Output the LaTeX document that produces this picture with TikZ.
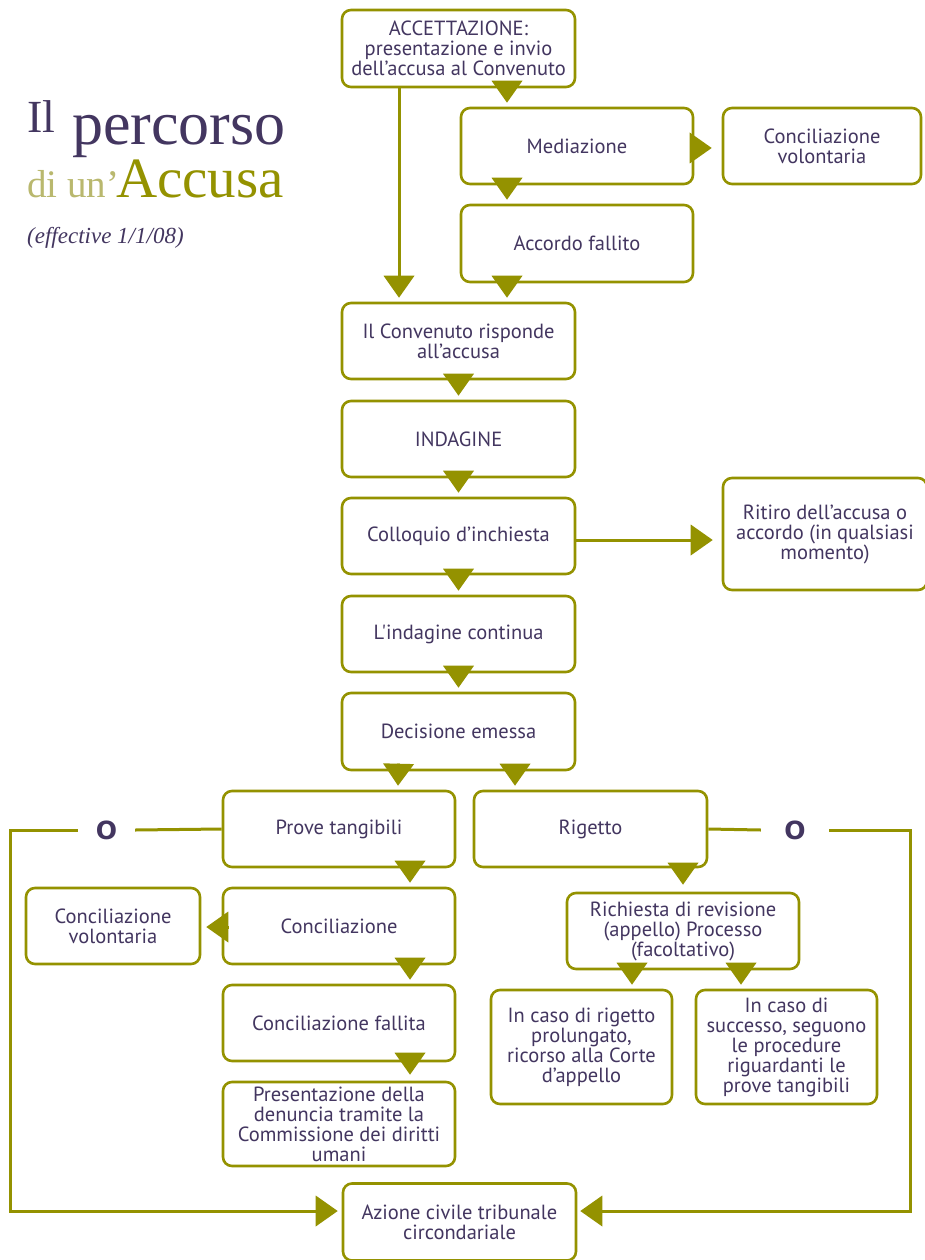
\documentclass[tikz,border=0pt]{standalone}
\usepackage{fontspec}
\setmainfont{Liberation Serif}
\newfontfamily\bxf{PT Sans}
\newfontfamily\of{DejaVu Sans}
\usetikzlibrary{arrows.meta,calc}
\definecolor{ol}{RGB}{148,146,0}
\definecolor{pu}{RGB}{67,54,96}
\definecolor{lol}{RGB}{185,184,110}
\begin{document}
\begin{tikzpicture}[x=1pt,y=-1pt,
 box/.style={draw=ol,line width=2.6pt,rounded corners=9pt,fill=white,align=center,text=pu,font={\bxf\fontsize{20.5}{20}\selectfont},inner sep=0pt},
 wh/.style 2 args={minimum width=#1pt,minimum height=#2pt},
 arr/.style={draw=ol,line width=3pt,line join=miter,-{Triangle[width=31pt,length=22pt,line width=0pt]}},
 ln/.style={draw=ol,line width=3pt},
 onode/.style={text=pu,font={\of\bfseries\fontsize{25}{25}\selectfont},inner sep=0pt,minimum height=20pt},
 ttl/.style={anchor=base west,inner sep=0pt}]
\useasboundingbox (0,0) rectangle (924,1260);
\fill[white] (0,0) rectangle (924,1260);
% title
\node[ttl,text=pu,font={\fontsize{46}{46}\selectfont}] (t1) at (27,133) {Il};
\node[ttl,text=pu,font={\fontsize{62}{62}\selectfont}] (t2) at (72,145) {percorso};
\node[ttl,text=lol,font={\fontsize{39}{39}\selectfont}] (t3) at (27,197) {di un’};
\node[ttl,text=ol,font={\fontsize{57}{57}\selectfont}] (t4) at (116,197) {Accusa};
\node[ttl,text=pu,font={\itshape\fontsize{23}{23}\selectfont}] (t5) at (27,243) {(effective 1/1/08)};
% boxes
\node[box,wh={233}{77}] (acc) at (458.5,48.5) {ACCETTAZIONE:\\presentazione e invio\\dell’accusa al Convenuto};
\node[box,wh={232}{76}] (med) at (577,146) {Mediazione};
\node[box,wh={198}{76}] (cv1) at (822,146) {Conciliazione\\volontaria};
\node[box,wh={232}{77}] (acf) at (577,243.5) {Accordo fallito};
\node[box,wh={233}{76}] (conv) at (458.5,341) {Il Convenuto risponde\\all’accusa};
\node[box,wh={233}{76}] (ind) at (458.5,439) {INDAGINE};
\node[box,wh={233}{76}] (coll) at (458.5,536) {Colloquio d’inchiesta};
\node[box,wh={204}{112}] (rit) at (825,534) {Ritiro dell’accusa o\\accordo (in qualsiasi\\momento)};
\node[box,wh={233}{76}] (cont) at (458.5,634) {L'indagine continua};
\node[box,wh={233}{77}] (dec) at (458.5,731.5) {Decisione emessa};
\node[box,wh={232}{76}] (prove) at (339,829) {Prove tangibili};
\node[box,wh={233}{76}] (rig) at (590.5,829) {Rigetto};
\node[box,wh={232}{76}] (conc) at (339,926) {Conciliazione};
\node[box,wh={174}{76}] (cv2) at (113,926) {Conciliazione\\volontaria};
\node[box,wh={232}{76}] (cf) at (339,1023) {Conciliazione fallita};
\node[box,wh={232}{84}] (pres) at (339,1124) {Presentazione della\\denuncia tramite la\\Commissione dei diritti\\umani};
\node[box,wh={232}{76}] (rich) at (683,931) {Richiesta di revisione\\(appello) Processo\\(facoltativo)};
\node[box,wh={181}{114}] (rp) at (581.5,1047) {In caso di rigetto\\prolungato,\\ricorso alla Corte\\d’appello};
\node[box,wh={181}{114}] (succ) at (786.5,1047) {In caso di\\successo, seguono\\le procedure\\riguardanti le\\prove tangibili};
\node[box,wh={233}{77}] (az) at (459.5,1222) {Azione civile tribunale\\circondariale};
% O labels
\node[onode,minimum width=57pt] (oL) at (106.5,830) {O};
\node[onode,minimum width=68pt] (oR) at (795,830) {O};
% connectors
\draw[arr] ([shift={(48.5,-6)}]acc.south) -- ([shift={(-70,-4)}]med.north);
\draw[arr] ([shift={(-59.5,0)}]acc.south) -- ([shift={(-59.5,-4)}]conv.north);
\draw[arr] ([shift={(-4,2)}]med.east) -- ([shift={(-10,2)}]cv1.west);
\draw[arr] ([shift={(-70,-6)}]med.south) -- ([shift={(-70,-4)}]acf.north);
\draw[arr] ([shift={(-70,-6)}]acf.south) -- ([shift={(48.5,-4)}]conv.north);
\draw[arr] ([shift={(0,-6)}]conv.south) -- ([shift={(0,-4)}]ind.north);
\draw[arr] ([shift={(0,-6)}]ind.south) -- ([shift={(0,-4)}]coll.north);
\draw[arr] ([shift={(0,4)}]coll.east) -- ([shift={(-9,6)}]rit.west);
\draw[arr] ([shift={(0,-6)}]coll.south) -- ([shift={(0,-4)}]cont.north);
\draw[arr] ([shift={(0,-6)}]cont.south) -- ([shift={(0,-4)}]dec.north);
\draw[arr] ([shift={(-60,-6)}]dec.south) -- ([shift={(59,-4)}]prove.north);
\draw[arr] ([shift={(56.5,-6)}]dec.south) -- ([shift={(-75.5,-4)}]rig.north);
\draw[arr] ([shift={(71,-6)}]prove.south) -- ([shift={(71,-4)}]conc.north);
\draw[arr] ([shift={(6,1)}]conc.west) -- ([shift={(5,1)}]cv2.east);
\draw[arr] ([shift={(71,-6)}]conc.south) -- ([shift={(71,-4)}]cf.north);
\draw[arr] ([shift={(71,-6)}]cf.south) -- ([shift={(71,-6)}]pres.north);
\draw[arr] ([shift={(92.5,-4)}]rig.south) -- ([shift={(0,-7)}]rich.north);
\draw[arr] ([shift={(-51,-6)}]rich.south) -- ([shift={(50.5,-4)}]rp.north);
\draw[arr] ([shift={(58,-6)}]rich.south) -- ([shift={(-45.5,-4)}]succ.north);
\draw[ln] (prove.west) -- (oL.east);
\draw[ln] (rig.east) -- (oR.west);
\coordinate (cl) at (10,1211);
\coordinate (cr) at (910,1211);
\draw[arr] (oL.west) -| (cl) -- ([shift={(-4,-11)}]az.west);
\draw[arr] (oR.east) -| (cr) -- ([shift={(3,-11)}]az.east);
\end{tikzpicture}
\end{document}
